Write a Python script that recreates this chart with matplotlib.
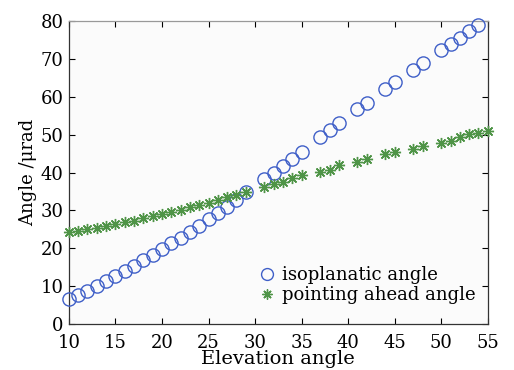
import matplotlib
matplotlib.use("Agg")
import matplotlib.pyplot as plt

# elevation angles where samples were taken (gaps are in the original)
elev = [10, 11, 12, 13, 14, 15, 16, 17, 18, 19, 20, 21, 22, 23, 24, 25, 26, 27, 28, 29,
        31, 32, 33, 34, 35, 37, 38, 39, 41, 42, 44, 45, 47, 48, 50, 51, 52, 53, 54, 55]

# last point (55) lies above the plotted range in the original, so it is left out
iso_angle = [6.7, 7.8, 8.8, 10.0, 11.3, 12.6, 14.0, 15.3, 16.8, 18.3,
             19.9, 21.3, 22.8, 24.4, 26.0, 27.7, 29.3, 31.0, 32.8, 34.8,
             38.2, 40.0, 41.8, 43.6, 45.4, 49.4, 51.2, 53.1, 56.7, 58.4,
             62.0, 63.8, 67.2, 69.0, 72.3, 73.9, 75.6, 77.3, 78.9]

pa_angle = [24.2, 24.5, 25.0, 25.3, 25.8, 26.3, 26.9, 27.3, 27.9, 28.6,
            29.1, 29.6, 30.2, 30.9, 31.5, 32.1, 32.7, 33.5, 34.1, 34.9,
            36.1, 36.9, 37.6, 38.6, 39.4, 40.2, 40.8, 42.0, 42.9, 43.6,
            44.8, 45.4, 46.2, 47.0, 47.7, 48.4, 49.4, 50.1, 50.5, 51.0]

plt.rcParams['font.family'] = 'DejaVu Serif'
plt.rcParams['font.size'] = 13

fig = plt.figure(figsize=(5.14, 3.70), dpi=100)
ax = fig.add_axes([0.134, 0.124, 0.815, 0.819])
ax.set_facecolor('#fbfbfb')

ax.plot(elev[:len(iso_angle)], iso_angle, 'o', mfc='none', mec='#3f5fc8', mew=1.0,
        ms=9.5, clip_on=False, zorder=3, label='isoplanatic angle')
ax.plot(elev, pa_angle, ls='none', marker=(8, 2, 0), color='#4f9447', mew=1.0, ms=8,
        clip_on=False, zorder=3, label='pointing ahead angle')

ax.set_xlim(10, 55)
ax.set_ylim(0, 80)
ax.set_xticks(range(10, 56, 5))
ax.set_yticks(range(0, 81, 10))
ax.tick_params(direction='in', top=True, right=True, length=4, width=0.8,
               labelsize=13)
ax.tick_params(axis='x', pad=7)
ax.tick_params(axis='y', pad=4)
for s in ax.spines.values():
    s.set_color('#333333')
    s.set_linewidth(0.9)
ax.spines['top'].set_color('#999999')

ax.set_xlabel('Elevation angle', fontsize=14, labelpad=-1)
ax.set_ylabel('Angle /\u03bcrad', fontsize=13, labelpad=2)

ax.legend(loc='lower left', bbox_to_anchor=(0.43, 0.03), frameon=False,
          handlelength=0.8, handletextpad=0.4, labelspacing=0.1,
          borderaxespad=0.2, fontsize=13, markerscale=0.9)

fig.savefig('out.png', dpi=100)
